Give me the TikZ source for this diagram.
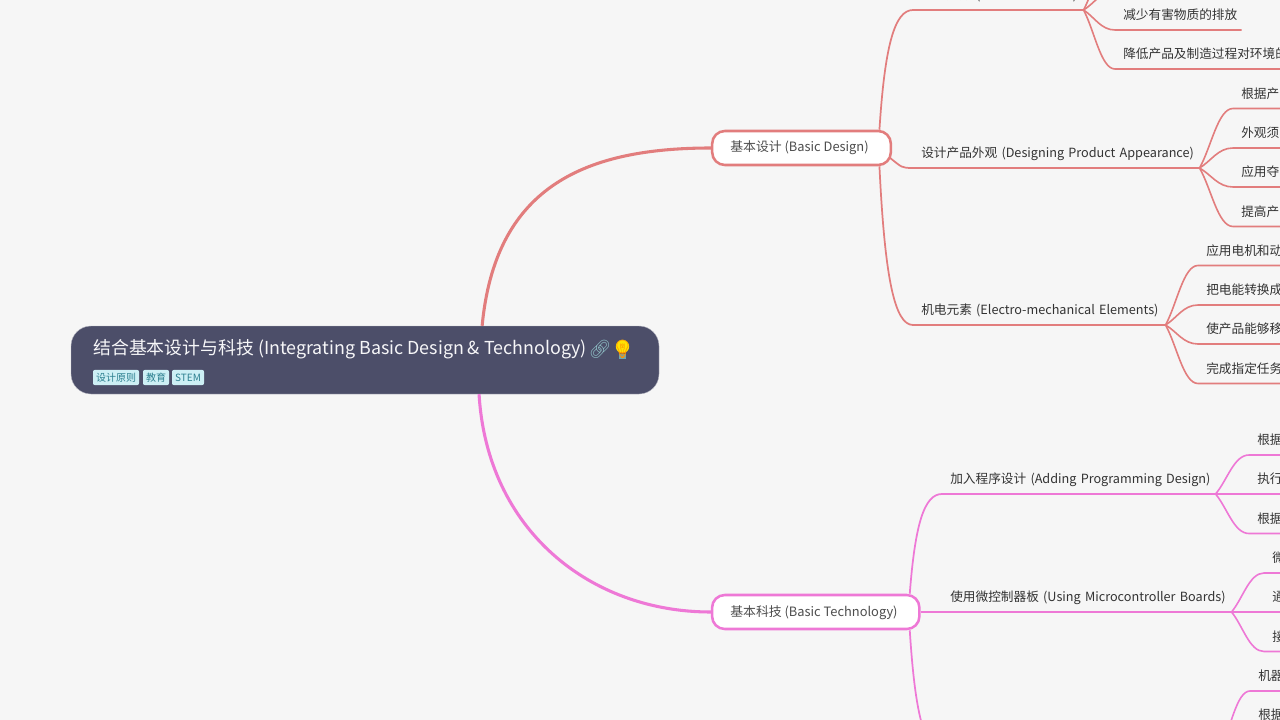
\documentclass[tikz,border=0pt]{standalone}
\usepackage{fontspec}
\usetikzlibrary{calc}
\setmainfont{Noto Sans CJK SC}
\newfontfamily\emojifont{Noto Emoji}
\definecolor{bgc}{HTML}{F6F6F6}
\definecolor{rootc}{HTML}{4C4E69}
\definecolor{redc}{HTML}{E27D7D}
\definecolor{pinkc}{HTML}{EE78D6}
\definecolor{textc}{HTML}{333333}
\definecolor{nodetext}{HTML}{4D4D4D}
\definecolor{tagfill}{HTML}{CDEFF5}
\definecolor{tagtext}{HTML}{2C7F8F}
\tikzset{
  topic/.style={anchor=south west, inner sep=0pt, minimum height=22.5pt, text width=#1*0.75pt, align=left, text=textc, font=\fontsize{9.5pt}{12pt}\selectfont},
  branch/.style={rectangle, rounded corners=9.5pt, draw=#1, line width=1.9pt, fill=white, inner sep=0pt, minimum height=25.5pt},
  boxtext/.style={anchor=west, inner sep=0pt, text=nodetext, font=\fontsize{9.65pt}{12pt}\selectfont},
  rootbox/.style={rectangle, rounded corners=15pt, fill=rootc, draw=rootc!40!white, line width=0.3pt, inner sep=0pt},
  roottitle/.style={anchor=west, inner sep=0pt, text=white!95!rootc, font=\fontsize{13.4pt}{16pt}\selectfont},
  tagbox/.style={rectangle, rounded corners=1.5pt, fill=tagfill, inner sep=0pt, minimum height=11.5pt, text=tagtext, font=\fontsize{7.5pt}{9pt}\selectfont},
  emoji/.style={inner sep=0pt, font=\emojifont\fontsize{13.5pt}{15pt}\selectfont},
  mainred/.style={draw=redc, line width=2.3pt},
  mainpink/.style={draw=pinkc, line width=2.3pt},
  lvr/.style={draw=redc, line width=1.3pt},
  lvp/.style={draw=pinkc, line width=1.3pt},
  kidr/.style={draw=redc, line width=1.2pt},
  kidp/.style={draw=pinkc, line width=1.2pt}
}
% label padded from the start of its underline, with a uniform height
\newcommand\lab[1]{\mbox{\rule[-3.4pt]{0pt}{14pt}\hspace*{6pt}#1}}
% elbow from a point to a topic node, then along its underline
\newcommand\kid[3]{\draw[#1] (#2) .. controls ($(#2)!.35!(#3.south west)$) and ($(#2 |- #3.south west)!.55!(#3.south west)$) .. (#3.south west) -- (#3.south east);}
% long steep branch from a box to a topic node
\newcommand\longb[3]{\draw[#1] (#2) .. controls ($(#2)!.7!(#2 |- #3.south west)+(4pt,0)$) and ($(#2 |- #3.south west)!.45!(#3.south west)$) .. (#3.south west) -- (#3.south east);}
\begin{document}
\begin{tikzpicture}[x=0.75pt,y=-0.75pt]
\useasboundingbox (0,0) rectangle (1280,720);
\clip (0,0) rectangle (1280,720);
\fill[bgc] (0,0) rectangle (1280,720);

% boxes
\node[branch=redc, minimum width=134pt] (bd) at (801.5,148) {};
\node[branch=pinkc, minimum width=155.5pt] (bt) at (815.75,612) {};
\node[rootbox, minimum width=441pt, minimum height=51pt] (root) at (365,360) {};

% curves from root
\coordinate (rt) at ($(root.north west)+(308.5pt,0)$);
\coordinate (rb) at ($(root.south west)+(306.2pt,0)$);
\draw[mainred] (rt) .. controls (495,190) and (580,148) .. (bd.west);
\draw[mainpink] (rb) .. controls (487,530) and (590,612) .. (bt.west);

% level 2 topics
\node[topic=170] (t1) at (913,10) {\lab{绿色产品 (Green Products)}};
\node[topic=286] (t2) at (913,168) {\lab{设计产品外观 (Designing Product Appearance)}};
\node[topic=252] (t3) at (913,325) {\lab{机电元素 (Electro-mechanical Elements)}};
\node[topic=273] (t4) at (942,494) {\lab{加入程序设计 (Adding Programming Design)}};
\node[topic=289] (t5) at (942,612) {\lab{使用微控制器板 (Using Microcontroller Boards)}};

\coordinate (bdtop) at ($(bd.north east)+(-9.5pt,0)$);
\coordinate (bdlow) at ($(bd.south east)+(-9.5pt,0)$);
\coordinate (bdr) at ($(bd.east)+(-1.5pt,-7.5pt)$);
\coordinate (bttop) at ($(bt.north east)+(-8.2pt,0)$);
\coordinate (btlow) at ($(bt.south east)+(-8.2pt,0)$);
\coordinate (t6) at (942,750);
\coordinate (t6r) at (1220,750);

\longb{lvr}{bdtop}{t1}
\draw[lvr] (bdr) .. controls ($(bdr)+(9pt,-7pt)$) and ($(t2.south west)+(-9pt,0)$) .. (t2.south west) -- (t2.south east);
\longb{lvr}{bdlow}{t3}
\longb{lvp}{bttop}{t4}
\draw[lvp] (bt.east) -- (t5.south west) -- (t5.south east);
\draw[lvp] (btlow) .. controls ($(btlow)!.7!(btlow |- t6)+(4pt,0)$) and ($(btlow |- t6)!.45!(t6)$) .. (t6) -- (t6r);

% leaf topics
\node[topic=126] (a2) at (1115,30) {\lab{减少有害物质的排放}};
\node[topic=200] (a3) at (1115,69) {\lab{降低产品及制造过程对环境的}};
\coordinate (a0) at (1115,-48);
\coordinate (a1) at (1115,-9);
\draw[kidr] (t1.south east) .. controls ($(t1.south east)!.35!(a0)$) and ($(t1.south east |- a0)!.55!(a0)$) .. (a0);
\draw[kidr] (t1.south east) .. controls ($(t1.south east)!.35!(a1)$) and ($(t1.south east |- a1)!.55!(a1)$) .. (a1);
\kid{kidr}{t1.south east}{a2}
\kid{kidr}{t1.south east}{a3}

\node[topic=80] (b1) at (1233,108.5) {\lab{根据产}};
\node[topic=80] (b2) at (1233,148) {\lab{外观须}};
\node[topic=80] (b3) at (1233,187) {\lab{应用夺}};
\node[topic=80] (b4) at (1233,226.5) {\lab{提高产}};
\kid{kidr}{t2.south east}{b1}
\kid{kidr}{t2.south east}{b2}
\kid{kidr}{t2.south east}{b3}
\kid{kidr}{t2.south east}{b4}

\node[topic=110] (c1) at (1198,265.5) {\lab{应用电机和动}};
\node[topic=110] (c2) at (1198,305) {\lab{把电能转换成}};
\node[topic=110] (c3) at (1198,344) {\lab{使产品能够移}};
\node[topic=110] (c4) at (1198,383.5) {\lab{完成指定任务}};
\kid{kidr}{t3.south east}{c1}
\kid{kidr}{t3.south east}{c2}
\kid{kidr}{t3.south east}{c3}
\kid{kidr}{t3.south east}{c4}

\node[topic=60] (d1) at (1249,455) {\lab{根据}};
\node[topic=60] (d2) at (1249,494) {\lab{执行}};
\node[topic=60] (d3) at (1249,533.5) {\lab{根据}};
\kid{kidp}{t4.south east}{d1}
\kid{kidp}{t4.south east}{d2}
\kid{kidp}{t4.south east}{d3}

\node[topic=40] (e1) at (1264,573) {\lab{微}};
\node[topic=40] (e2) at (1264,612) {\lab{通}};
\node[topic=40] (e3) at (1264,651.5) {\lab{接}};
\kid{kidp}{t5.south east}{e1}
\kid{kidp}{t5.south east}{e2}
\kid{kidp}{t5.south east}{e3}

\node[topic=60] (f1) at (1250,691) {\lab{机器}};
\node[topic=60] (f2) at (1250,730) {\lab{根据}};
\kid{kidp}{t6r}{f1}
\kid{kidp}{t6r}{f2}

% box texts
\node[boxtext] (bdtext) at (730,148) {基本设计 (Basic Design)};
\node[boxtext] (bttext) at (730,613) {基本科技 (Basic Technology)};

% root contents
\node[roottitle] (title) at (93,349) {结合基本设计与科技 (Integrating Basic Design \& Technology)};
\fill[yellow!85!orange] (622.5,346.5) circle (5pt);
\fill[tagtext!70!white] (619,354) rectangle (626,359);
\node[emoji, text=tagtext!55!white] (link) at (600,349) {🔗};
\node[emoji, text=orange!85!yellow] (bulb) at (622.5,349) {💡};
\node[tagbox, minimum width=34.5pt] (tag1) at (116,377.5) {设计原则};
\node[tagbox, minimum width=19.5pt] (tag2) at (156,377.5) {教育};
\node[tagbox, minimum width=24pt] (tag3) at (188,377.5) {STEM};
\end{tikzpicture}
\end{document}
